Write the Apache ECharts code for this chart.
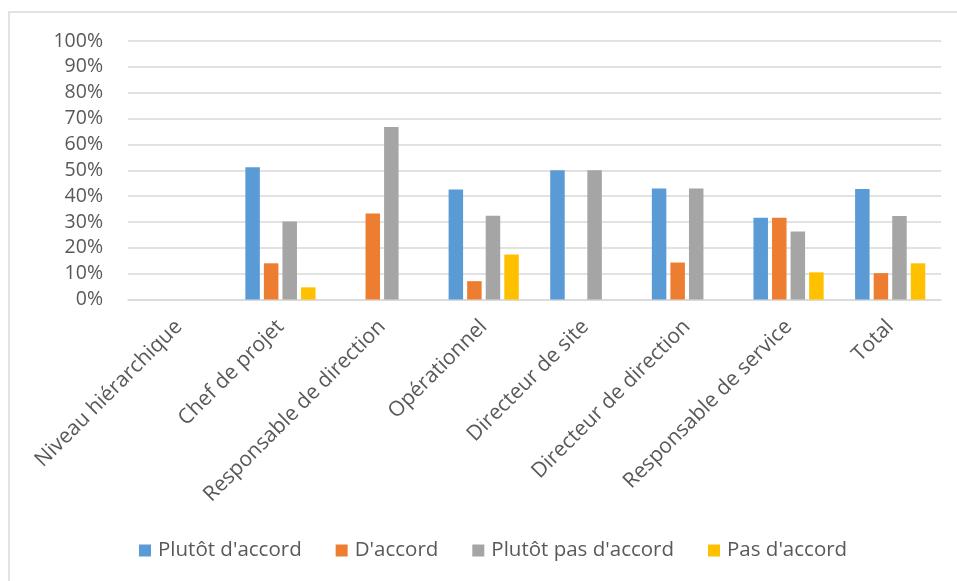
<!DOCTYPE html>
<html><head><meta charset="utf-8">
<script src="https://cdn.jsdelivr.net/npm/echarts@6/dist/echarts.min.js"></script>
<style>html,body{margin:0;padding:0;background:#fff}#c{width:957px;height:581px}</style>
</head><body><div id="c"></div>
<script>
const categories = ["Niveau hiérarchique","Chef de projet","Responsable de direction","Opérationnel","Directeur de site","Directeur de direction","Responsable de service","Total"];
const plutotAccord = [null, 51.2, null, 42.6, 50.0, 42.9, 31.6, 42.7];
const dAccord = [null, 14.0, 33.3, 7.1, null, 14.3, 31.6, 10.2];
const plutotPasAccord = [null, 30.2, 66.7, 32.4, 50.0, 42.9, 26.3, 32.3];
const pasAccord = [null, 4.7, null, 17.4, null, null, 10.5, 14.0];
const seriesNames = ["Plutôt d'accord","D'accord","Plutôt pas d'accord","Pas d'accord"];
const colors = ["#5b9bd5","#ed7d31","#a5a5a5","#ffc000"];

const font = "'Open Sans', 'Noto Sans', sans-serif";
const chart = echarts.init(document.getElementById('c'));
const mk = (name, data, i) => ({
  name, type: 'bar', data, barWidth: 14.5, barGap: '28%', barCategoryGap: '31%',
  itemStyle: {color: colors[i]}
});
chart.setOption({
  animation: false,
  color: colors,
  graphic: [{type:'rect', shape:{x:9, y:12, width:960, height:580}, style:{fill:'none', stroke:'#d9d9d9', lineWidth:1.5}, silent:true}],
  grid: {left:128, right:16, top:41, bottom:281.5, containLabel:false},
  legend: {
    top: 535, left: 134, itemWidth: 12, itemHeight: 12, itemGap: 34,
    icon: 'rect',
    textStyle: {fontFamily: font, fontSize: 20.5, color: '#595959', padding:[0,0,0,2]},
    data: seriesNames
  },
  xAxis: {
    type: 'category', data: categories,
    axisLine: {lineStyle: {color: '#d9d9d9', width: 1.5}},
    axisTick: {show: false},
    axisLabel: {rotate: 45, interval: 0, fontFamily: font, fontSize: 21, color: '#595959', margin: 24}
  },
  yAxis: {
    type: 'value', min: 0, max: 100, interval: 10,
    axisLine: {show: false}, axisTick: {show: false},
    splitLine: {lineStyle: {color: '#d9d9d9', width: 1.5}},
    axisLabel: {formatter: '{value}%', fontFamily: font, fontSize: 19.5, color: '#595959', margin: 25}
  },
  series: [mk(seriesNames[0], plutotAccord, 0), mk(seriesNames[1], dAccord, 1), mk(seriesNames[2], plutotPasAccord, 2), mk(seriesNames[3], pasAccord, 3)]
});
</script></body></html>
